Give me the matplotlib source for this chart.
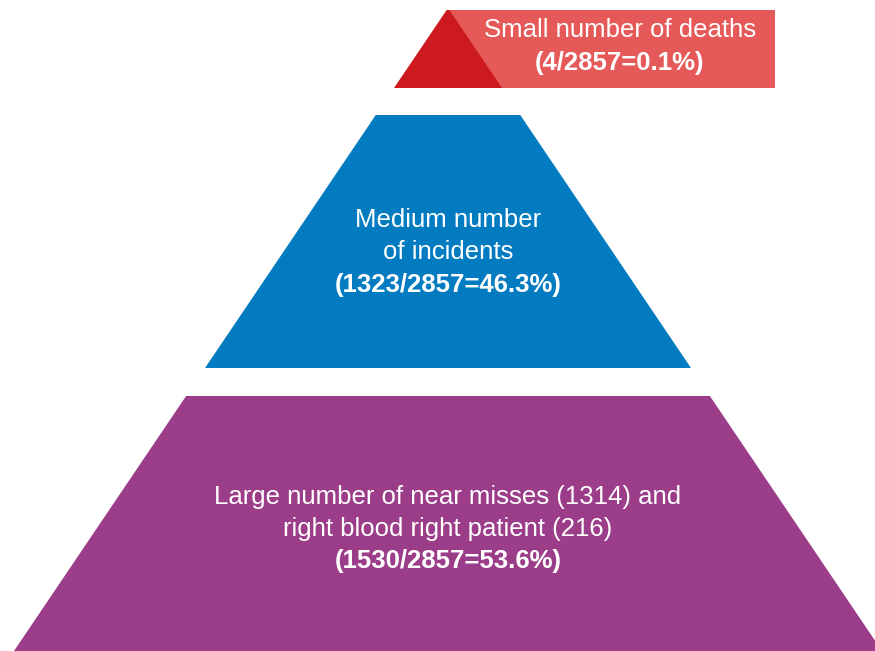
import matplotlib
matplotlib.use("Agg")
import matplotlib.pyplot as plt
from matplotlib.patches import Polygon, Rectangle

plt.rcParams["font.family"] = ["Liberation Sans", "DejaVu Sans"]

# data
labels = [["Small number of deaths"],
          ["Medium number", "of incidents"],
          ["Large number of near misses (1314) and", "right blood right patient (216)"]]
counts = [4, 1323, 1530]
total = 2857
colors = ["#CD1A1E", "#027BC1", "#9C3D8A"]
box_color = "#E55958"

# layout (pixel coords)
W, H = 875, 651
apex_x, apex_y = 448, 8
slope = 0.675           # dx per dy on the sides
bands = [(10, 88), (115, 368), (396, 651)]

fig = plt.figure(figsize=(W / 100, H / 100), dpi=100)
ax = fig.add_axes([0, 0, 1, 1])
ax.set_xlim(0, W)
ax.set_ylim(H, 0)
ax.axis("off")

def half(y):
    return (y - apex_y) * slope

# top box behind the triangle
ax.add_patch(Rectangle((apex_x, bands[0][0]), 775 - apex_x, bands[0][1] - bands[0][0],
                       color=box_color, lw=0))

for (y0, y1), c in zip(bands, colors):
    pts = [(apex_x - half(y0), y0), (apex_x + half(y0), y0),
           (apex_x + half(y1), y1), (apex_x - half(y1), y1)]
    ax.add_patch(Polygon(pts, closed=True, color=c, lw=0))

fs = 18.5
text_pos = [(620, [30, 63]), (448, [220, 252, 285]), (448, [497, 529, 561])]
for lab, n, (tx, ys) in zip(labels, counts, text_pos):
    lines = lab + ["({}/{}={:.1f}%)".format(n, total, 100 * n / total)]
    for i, (line, y) in enumerate(zip(lines, ys)):
        ax.text(tx, y, line, color="white", fontsize=fs, ha="center", va="center",
                fontweight="bold" if i == len(lines) - 1 else "normal")

plt.savefig("out.png", dpi=100)
plt.close()
